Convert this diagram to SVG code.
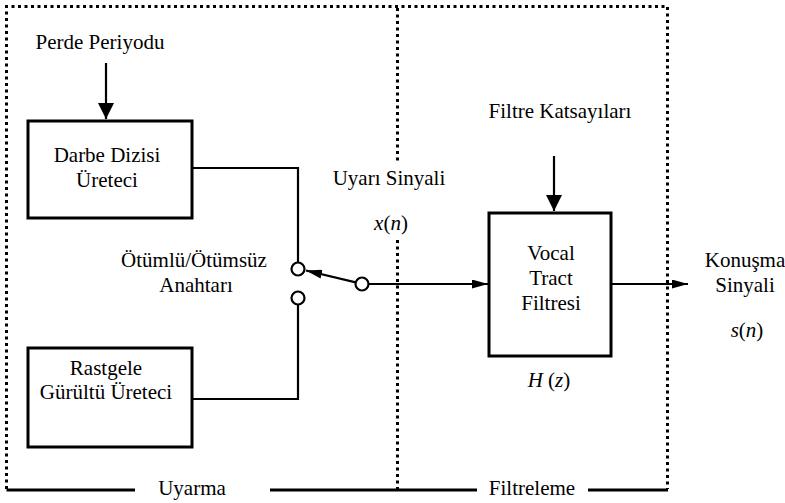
<svg xmlns="http://www.w3.org/2000/svg" width="785" height="503" viewBox="0 0 785 503">
  <style>
    text { font-family: "Liberation Serif", "Times New Roman", serif; font-size: 21px; fill: #000; text-anchor: middle; }
    .it { font-style: italic; }
    .box { fill: #fff; stroke: #000; stroke-width: 3; }
    .wire { fill: none; stroke: #000; stroke-width: 2.2; }
    .dot { fill: none; stroke: #000; stroke-width: 3; stroke-dasharray: 3 3.5; }
    .solid { fill: none; stroke: #000; stroke-width: 3; }
    .pin { fill: #fff; stroke: #000; stroke-width: 2.2; }
  </style>
  <defs>
    <marker id="arrowBig" viewBox="0 0 16 16" refX="16" refY="8" markerWidth="16" markerHeight="16" markerUnits="userSpaceOnUse" orient="auto">
      <path d="M0,0 L16,8 L0,16 z" fill="#000"/>
    </marker>
    <marker id="arrowSmall" viewBox="0 0 16 9" refX="16" refY="4.5" markerWidth="16" markerHeight="9" markerUnits="userSpaceOnUse" orient="auto">
      <path d="M0,0 L16,4.5 L0,9 z" fill="#000"/>
    </marker>
  </defs>

  <!-- section frames: excitation (left) and filtering (right) -->
  <g id="frames">
    <path class="dot" d="M6.5,489 V6.5 H667.5 V489"/>
    <path class="dot" d="M397.5,8 V163"/>
    <path class="dot" d="M397.5,240 V489"/>
    <path class="solid" d="M6.5,490 H135 M270,490 H477 M588,490 H668"/>
    <text x="192" y="495">Uyarma</text>
    <text x="532" y="495">Filtreleme</text>
  </g>

  <!-- connectors -->
  <g id="connectors">
    <line class="wire" x1="106" y1="63" x2="106" y2="119" marker-end="url(#arrowBig)"/>
    <line class="wire" x1="554" y1="156" x2="554" y2="211" marker-end="url(#arrowBig)"/>
    <path class="wire" d="M192,168 H298 V262.5"/>
    <path class="wire" d="M192,399 H298 V304.5"/>
    <line class="wire" x1="355.7" y1="282.4" x2="306" y2="270.5" marker-end="url(#arrowSmall)"/>
    <line class="wire" x1="368.5" y1="284" x2="488" y2="284" marker-end="url(#arrowSmall)"/>
    <line class="wire" x1="611" y1="284" x2="688" y2="284" marker-end="url(#arrowSmall)"/>
  </g>

  <g id="pitch-label">
    <text x="100" y="49">Perde Periyodu</text>
  </g>

  <g id="pulse-train">
    <rect class="box" x="28" y="121" width="164" height="97"/>
    <text x="107" y="162">Darbe Dizisi</text>
    <text x="107" y="187">Üreteci</text>
  </g>

  <g id="noise-generator">
    <rect class="box" x="28" y="348" width="164" height="99"/>
    <text x="106" y="375">Rastgele</text>
    <text x="106" y="399">Gürültü Üreteci</text>
  </g>

  <g id="switch">
    <circle class="pin" cx="298" cy="269" r="6.5"/>
    <circle class="pin" cx="298" cy="298" r="6.5"/>
    <circle class="pin" cx="362" cy="284" r="6.5"/>
    <text x="194" y="267">Ötümlü/Ötümsüz</text>
    <text x="196" y="292">Anahtarı</text>
  </g>

  <g id="excitation-label">
    <text x="389" y="185">Uyarı Sinyali</text>
    <text x="391" y="230"><tspan class="it">x</tspan>(<tspan class="it">n</tspan>)</text>
  </g>

  <g id="coefficients-label">
    <text x="560" y="118">Filtre Katsayıları</text>
  </g>

  <g id="vocal-tract">
    <rect class="box" x="489" y="213" width="122" height="143"/>
    <text x="551" y="260">Vocal</text>
    <text x="551" y="285">Tract</text>
    <text x="551" y="310">Filtresi</text>
    <text x="549" y="387"><tspan class="it">H</tspan> (<tspan class="it">z</tspan>)</text>
  </g>

  <g id="speech-output">
    <text x="745" y="267">Konuşma</text>
    <text x="745" y="292">Sinyali</text>
    <text x="747" y="337"><tspan class="it">s</tspan>(<tspan class="it">n</tspan>)</text>
  </g>
</svg>
